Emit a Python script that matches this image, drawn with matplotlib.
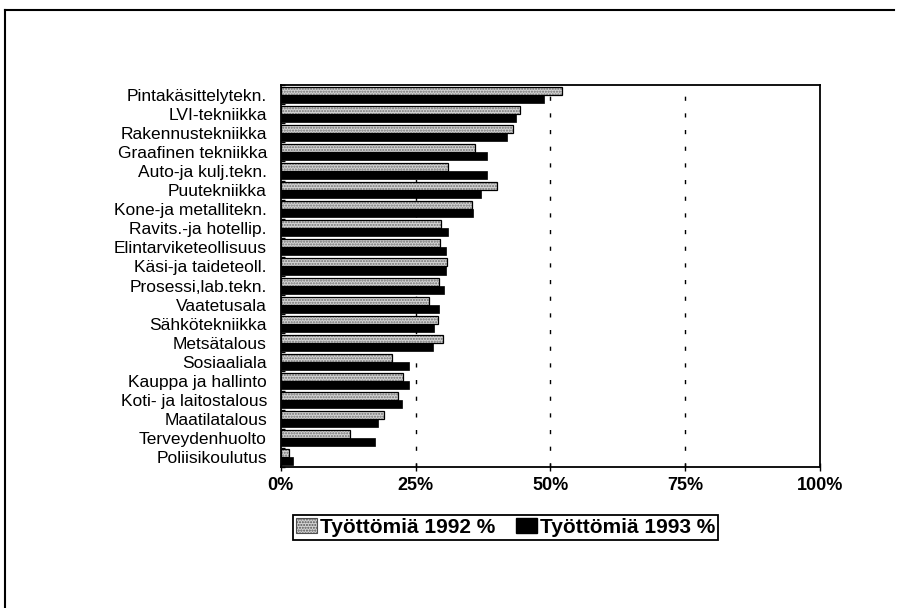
import matplotlib
matplotlib.use("Agg")
import matplotlib.pyplot as plt
import numpy as np
from matplotlib.patches import Patch
from matplotlib.lines import Line2D

plt.rcParams['font.family'] = ['Liberation Sans', 'DejaVu Sans']

categories = [
    "Pintakäsittelytekn.", "LVI-tekniikka", "Rakennustekniikka",
    "Graafinen tekniikka", "Auto-ja kulj.tekn.", "Puutekniikka",
    "Kone-ja metallitekn.", "Ravits.-ja hotellip.", "Elintarviketeollisuus",
    "Käsi-ja taideteoll.", "Prosessi,lab.tekn.", "Vaatetusala",
    "Sähkötekniikka", "Metsätalous", "Sosiaaliala", "Kauppa ja hallinto",
    "Koti- ja laitostalous", "Maatilatalous", "Terveydenhuolto",
    "Poliisikoulutus",
]
tyott_1992 = [52.2, 44.4, 43.0, 36.0, 31.0, 40.1, 35.4, 29.7, 29.6, 30.9,
              29.3, 27.5, 29.1, 30.1, 20.6, 22.7, 21.8, 19.2, 12.8, 1.5]
tyott_1993 = [48.9, 43.6, 42.0, 38.3, 38.2, 37.2, 35.6, 31.0, 30.7, 30.6,
              30.2, 29.4, 28.5, 28.2, 23.8, 23.8, 22.4, 18.1, 17.5, 2.3]
xticks = [0, 25, 50, 75, 100]
xticklabels = ["0%", "25%", "50%", "75%", "100%"]

fig = plt.figure(figsize=(9.03, 6.08), dpi=100)
ax = fig.add_axes([0.311, 0.232, 0.597, 0.628])

y = np.arange(len(categories))
h = 0.42

# gridlines behind bars
for gx in xticks[1:-1]:
    ax.axvline(gx, color='black', lw=1.0, linestyle=(0, (3, 9)), zorder=0)

# 1992: stippled gray, black outline
ax.barh(y - h / 2, tyott_1992, height=h, color='#d4d4d4', edgecolor='#707070',
        hatch='......', linewidth=0, zorder=2)
ax.barh(y - h / 2, tyott_1992, height=h, fill=False, edgecolor='black',
        linewidth=0.9, zorder=3)
# 1993: solid black
ax.barh(y + h / 2, tyott_1993, height=h, color='black', edgecolor='black',
        linewidth=0.5, zorder=3)

ax.set_xlim(0, 100)
ax.set_ylim(len(categories) - 0.5, -0.5)
ax.set_xticks(xticks)
ax.set_xticklabels(xticklabels, fontsize=13, fontweight='bold')
ax.set_yticks(y)
ax.set_yticklabels(categories, fontsize=12.5)
ax.tick_params(axis='y', length=0, pad=10)
ax.set_yticks(np.arange(len(categories) + 1) - 0.5, minor=True)
ax.tick_params(axis='y', which='minor', length=3, direction='in', width=1)
ax.tick_params(axis='x', length=6, direction='inout', width=1, pad=4)
for s in ax.spines.values():
    s.set_linewidth(1.3)
    s.set_color('black')

handles = [
    Patch(facecolor='#d4d4d4', edgecolor='#505050', hatch='......', lw=0.8),
    Patch(facecolor='black', edgecolor='black'),
]
leg = fig.legend(handles, ["Työttömiä 1992 %", "Työttömiä 1993 %"],
                 loc='center', bbox_to_anchor=(0.56, 0.133), ncol=2,
                 fancybox=False, framealpha=1, edgecolor='black',
                 prop={'size': 15, 'weight': 'bold'}, handlelength=1.0,
                 handleheight=0.7, handletextpad=0.15, columnspacing=1.0,
                 borderpad=0.15, borderaxespad=0)
leg.get_frame().set_linewidth(1.3)

# scanned page border (left and top)
fig.add_artist(Line2D([0.005, 0.005], [0.0, 0.983], color='black', lw=1.5))
fig.add_artist(Line2D([0.005, 0.99], [0.983, 0.983], color='black', lw=1.5))

fig.savefig("out.png", dpi=100)
